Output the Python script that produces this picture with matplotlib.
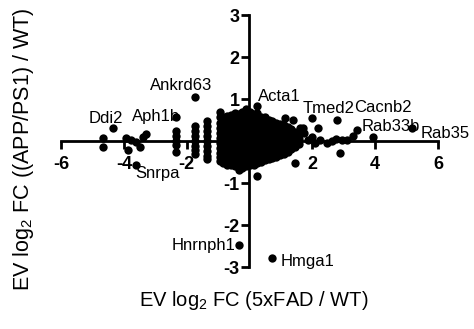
import matplotlib
matplotlib.use("Agg")
import matplotlib.pyplot as plt

# EV log2 fold changes: x = 5xFAD / WT, y = (APP/PS1) / WT
# dense part of the cloud, read as vertical strips
strip_fad = [-2.34, -1.73, -1.34, -0.95, -0.83, -0.71, -0.59, -0.47, -0.35, -0.23,
             -0.11, 0.01, 0.13, 0.25, 0.37, 0.49, 0.61, 0.73, 0.85, 0.97, 1.09,
             1.21, 1.33, 1.45, 1.57]
strip_app = [
    [0.23, 0.12, 0.01, -0.10, -0.25],
    [0.35, 0.24, 0.12, 0.00, -0.12, -0.22, -0.30],
    [0.47, 0.36, 0.24, 0.12, 0.00, -0.12, -0.24, -0.35, -0.44],
    [0.68, 0.56, 0.44, 0.32, 0.20, 0.08, -0.04, -0.16, -0.28, -0.38, -0.48],
    [0.58, 0.47, 0.35, 0.23, 0.11, -0.01, -0.13, -0.25, -0.35, -0.45, -0.53],
    [0.60, 0.50, 0.38, 0.26, 0.14, 0.02, -0.10, -0.22, -0.32, -0.44, -0.56],
    [0.62, 0.52, 0.40, 0.28, 0.16, 0.04, -0.08, -0.20, -0.30, -0.42, -0.50, -0.58],
    [0.67, 0.55, 0.43, 0.31, 0.19, 0.07, -0.05, -0.17, -0.27, -0.39, -0.49, -0.60],
    [0.64, 0.53, 0.41, 0.29, 0.17, 0.05, -0.07, -0.19, -0.29, -0.41, -0.51, -0.62, -0.68],
    [0.68, 0.56, 0.44, 0.32, 0.20, 0.08, -0.04, -0.16, -0.26, -0.38, -0.48, -0.58, -0.64],
    [0.76, 0.64, 0.52, 0.40, 0.28, 0.16, 0.04, -0.08, -0.18, -0.30, -0.40, -0.50, -0.60],
    [0.70, 0.59, 0.47, 0.35, 0.23, 0.11, -0.01, -0.13, -0.23, -0.35, -0.45, -0.58],
    [0.64, 0.53, 0.41, 0.29, 0.17, 0.05, -0.07, -0.19, -0.29, -0.39, -0.48, -0.56],
    [0.66, 0.54, 0.42, 0.30, 0.18, 0.06, -0.06, -0.18, -0.28, -0.38, -0.52],
    [0.58, 0.47, 0.35, 0.23, 0.11, -0.01, -0.13, -0.23, -0.33, -0.43, -0.50],
    [0.56, 0.44, 0.32, 0.20, 0.08, -0.04, -0.16, -0.26, -0.36, -0.46],
    [0.50, 0.39, 0.27, 0.15, 0.03, -0.09, -0.19, -0.29, -0.43],
    [0.48, 0.36, 0.24, 0.12, 0.00, -0.10, -0.22, -0.32, -0.40],
    [0.44, 0.33, 0.21, 0.09, -0.01, -0.13, -0.25, -0.38],
    [0.40, 0.29, 0.17, 0.05, -0.05, -0.17, -0.27, -0.34],
    [0.38, 0.26, 0.14, 0.02, -0.08, -0.20, -0.30],
    [0.34, 0.22, 0.10, 0.00, -0.12, -0.26],
    [0.28, 0.17, 0.05, -0.05, -0.20],
    [0.22, 0.10, 0.00, -0.14],
    [0.14, 0.04, -0.08],
]

# scattered points outside the cloud
other_fad = [-4.66, -4.66, -3.93, -3.88, -3.77, -3.61, -3.49, -3.39, -3.30, 1.45,
             0.24, 1.70, 2.18, 1.98, 1.85, 2.10, 2.25, 2.46, 2.62, 2.88, 2.75,
             2.95, 3.10, 3.30, 3.41, 1.62, 1.75, 1.13, 1.39]
other_app = [0.06, -0.14, 0.06, -0.22, 0.02, -0.02, -0.14, 0.10, 0.17, -0.53,
             -0.83, 0.31, 0.31, 0.10, 0.02, -0.05, 0.02, -0.05, 0.00, -0.28, 0.05,
             0.02, 0.02, 0.12, 0.26, 0.30, 0.18, 0.55, 0.50]

# labelled genes
genes = ["Ddi2", "Aph1b", "Ankrd63", "Snrpa", "Acta1", "Tmed2", "Cacnb2",
         "Rab33b", "Rab35", "Hnrnph1", "Hmga1"]
gene_fad = [-4.34, -2.34, -1.74, -3.61, 0.24, 1.98, 2.78, 3.92, 5.16, -0.33, 0.71]
gene_app = [0.30, 0.57, 1.04, -0.58, 0.84, 0.55, 0.50, 0.09, 0.30, -2.48, -2.79]

# label placement: (dx right, dy down) in pixels from the point
label_offset = {
    "Ddi2": (-7, -5), "Aph1b": (-20, 4), "Ankrd63": (-14, -7),
    "Snrpa": (21, 13), "Acta1": (22, -5), "Tmed2": (17, -5),
    "Cacnb2": (46, -8), "Rab33b": (18, -6), "Rab35": (34, 10),
    "Hnrnph1": (-36, 5), "Hmga1": (36, 8),
}

xticks = [-6, -4, -2, 2, 4, 6]
yticks = [-3, -2, -1, 1, 2, 3]

plt.rcParams["font.family"] = ["Liberation Sans", "DejaVu Sans"]
plt.rcParams["mathtext.fontset"] = "custom"
plt.rcParams["mathtext.rm"] = "Liberation Sans"
plt.rcParams["mathtext.it"] = "Liberation Sans:italic"
plt.rcParams["axes.unicode_minus"] = False

fad, app = [], []
for x, ys in zip(strip_fad, strip_app):
    for y in ys:
        fad.append(x)
        app.append(y)
fad += other_fad + gene_fad
app += other_app + gene_app

dpi = 100
fig = plt.figure(figsize=(4.74, 3.29), dpi=dpi)
ax = fig.add_axes([61 / 474, 1 - 267 / 329, 377 / 474, 252 / 329])
ax.scatter(fad, app, s=36, c="black", linewidths=0, clip_on=False, zorder=3)

ax.set_xlim(-6, 6)
ax.set_ylim(-3, 3)
for side in ["top", "right"]:
    ax.spines[side].set_visible(False)
for side in ["left", "bottom"]:
    ax.spines[side].set_position(("data", 0))
    ax.spines[side].set_linewidth(2)
ax.set_xticks(xticks)
ax.set_yticks(yticks)
ax.set_xticklabels([str(t) for t in xticks])
ax.set_yticklabels([str(t) for t in yticks])
ax.tick_params(axis="both", direction="out", length=5.5, width=2, labelsize=13)
ax.tick_params(axis="x", pad=5)
ax.tick_params(axis="y", pad=1.5)
for lab in ax.get_xticklabels() + ax.get_yticklabels():
    lab.set_fontweight("bold")

px = 72 / dpi
for name, x, y in zip(genes, gene_fad, gene_app):
    dx, dy = label_offset[name]
    ax.annotate(name, (x, y), xytext=(dx * px, -dy * px), textcoords="offset points",
                ha="center", va="baseline", fontsize=12, annotation_clip=False)

fig.text(254 / 474, 1 - 300 / 329, "EV log$_2$ FC (5xFAD / WT)",
         ha="center", va="center", fontsize=14.5)
fig.text(24 / 474, 1 - 149 / 329, "EV log$_2$ FC ((APP/PS1) / WT)",
         ha="center", va="center", rotation=90, fontsize=15.5)

fig.savefig("out.png", dpi=dpi)
